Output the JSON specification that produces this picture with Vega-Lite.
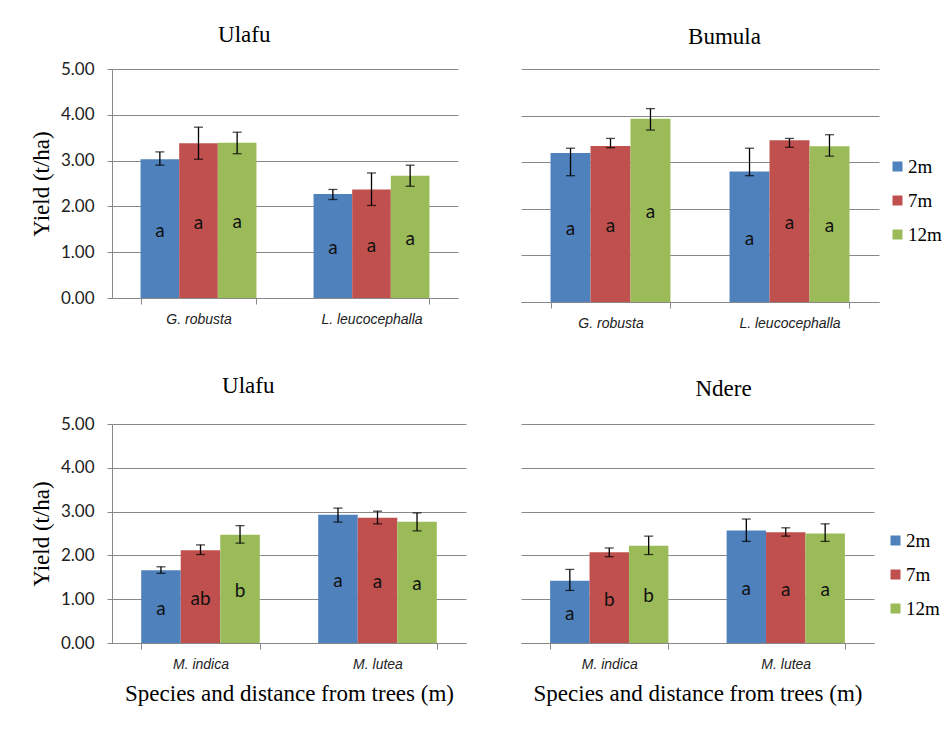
{
  "$schema": "https://vega.github.io/schema/vega-lite/v6.json",
  "padding": {"left": 30, "top": 24, "right": 5, "bottom": 5},
  "background": "white",
  "config": {"view": {"stroke": null}, "font": "Liberation Serif", "legend": {"labelFont": "Liberation Serif", "labelFontSize": 19, "labelColor": "#000"}},
  "data": {"values": [
    {"panel": "A", "species": "G. robusta", "dist": "2m", "yield": 3.03, "lo": 2.90, "hi": 3.19, "letter": "a"},
    {"panel": "A", "species": "G. robusta", "dist": "7m", "yield": 3.38, "lo": 3.03, "hi": 3.73, "letter": "a"},
    {"panel": "A", "species": "G. robusta", "dist": "12m", "yield": 3.39, "lo": 3.15, "hi": 3.62, "letter": "a"},
    {"panel": "A", "species": "L. leucocephalla", "dist": "2m", "yield": 2.27, "lo": 2.15, "hi": 2.37, "letter": "a"},
    {"panel": "A", "species": "L. leucocephalla", "dist": "7m", "yield": 2.37, "lo": 2.02, "hi": 2.73, "letter": "a"},
    {"panel": "A", "species": "L. leucocephalla", "dist": "12m", "yield": 2.67, "lo": 2.44, "hi": 2.90, "letter": "a"},
    {"panel": "B", "species": "G. robusta", "dist": "2m", "yield": 3.20, "lo": 2.71, "hi": 3.30, "letter": "a"},
    {"panel": "B", "species": "G. robusta", "dist": "7m", "yield": 3.35, "lo": 3.31, "hi": 3.51, "letter": "a"},
    {"panel": "B", "species": "G. robusta", "dist": "12m", "yield": 3.93, "lo": 3.69, "hi": 4.15, "letter": "a"},
    {"panel": "B", "species": "L. leucocephalla", "dist": "2m", "yield": 2.80, "lo": 2.71, "hi": 3.30, "letter": "a"},
    {"panel": "B", "species": "L. leucocephalla", "dist": "7m", "yield": 3.47, "lo": 3.32, "hi": 3.51, "letter": "a"},
    {"panel": "B", "species": "L. leucocephalla", "dist": "12m", "yield": 3.34, "lo": 3.13, "hi": 3.59, "letter": "a"},
    {"panel": "C", "species": "M. indica", "dist": "2m", "yield": 1.66, "lo": 1.59, "hi": 1.74, "letter": "a"},
    {"panel": "C", "species": "M. indica", "dist": "7m", "yield": 2.12, "lo": 2.02, "hi": 2.24, "letter": "ab"},
    {"panel": "C", "species": "M. indica", "dist": "12m", "yield": 2.47, "lo": 2.28, "hi": 2.68, "letter": "b"},
    {"panel": "C", "species": "M. lutea", "dist": "2m", "yield": 2.93, "lo": 2.76, "hi": 3.08, "letter": "a"},
    {"panel": "C", "species": "M. lutea", "dist": "7m", "yield": 2.86, "lo": 2.72, "hi": 3.01, "letter": "a"},
    {"panel": "C", "species": "M. lutea", "dist": "12m", "yield": 2.77, "lo": 2.56, "hi": 2.97, "letter": "a"},
    {"panel": "D", "species": "M. indica", "dist": "2m", "yield": 1.42, "lo": 1.20, "hi": 1.68, "letter": "a"},
    {"panel": "D", "species": "M. indica", "dist": "7m", "yield": 2.07, "lo": 1.97, "hi": 2.17, "letter": "b"},
    {"panel": "D", "species": "M. indica", "dist": "12m", "yield": 2.22, "lo": 2.02, "hi": 2.44, "letter": "b"},
    {"panel": "D", "species": "M. lutea", "dist": "2m", "yield": 2.57, "lo": 2.32, "hi": 2.83, "letter": "a"},
    {"panel": "D", "species": "M. lutea", "dist": "7m", "yield": 2.53, "lo": 2.44, "hi": 2.63, "letter": "a"},
    {"panel": "D", "species": "M. lutea", "dist": "12m", "yield": 2.50, "lo": 2.32, "hi": 2.72, "letter": "a"}
  ]},
  "columns": 2,
  "spacing": {"row": 122, "column": 55},
  "bounds": "flush",
  "align": "none",
  "resolve": {"scale": {"x": "independent", "y": "independent", "xOffset": "independent", "color": "independent"}, "legend": {"color": "independent"}},
  "concat": [
    {
      "width": 346, "height": 229,
      "title": {"text": "Ulafu", "font": "Liberation Serif", "fontSize": 23, "fontWeight": "normal", "color": "#000", "frame": "bounds", "anchor": "middle", "baseline": "alphabetic", "offset": -5},
      "transform": [{"filter": "datum.panel == 'A'"}, {"calculate": "datum.yield / 2", "as": "mid"}],
      "encoding": {
        "x": {"field": "species", "type": "nominal", "sort": null, "scale": {"paddingInner": 0.33, "paddingOuter": 0.165},
              "axis": {"title": null, "tickBand": "extent", "tickSize": 6, "tickColor": "#888", "domainColor": "#888", "labelFont": "Liberation Sans", "labelFontStyle": "italic", "labelFontSize": 14, "labelColor": "#222", "labelPadding": 8, "labelAngle": 0, "grid": false}},
        "xOffset": {"field": "dist", "type": "nominal", "sort": ["2m", "7m", "12m"], "scale": {"domain": ["2m", "7m", "12m"], "paddingInner": 0, "paddingOuter": 0}}
      },
      "layer": [
        {"mark": {"type": "bar"}, "encoding": {
          "y": {"field": "yield", "type": "quantitative", "scale": {"domain": [0, 5], "nice": false},
                "axis": {"title": "Yield (t/ha)", "titleFont": "Liberation Serif", "titleFontSize": 23, "titleFontWeight": "normal", "titleColor": "#000", "titlePadding": 7, "labelFont": "Lato", "labelFontSize": 17, "labelColor": "#222", "format": ".2f", "values": [0, 1, 2, 3, 4, 5], "tickSize": 5, "tickColor": "#888", "domainColor": "#888", "gridColor": "#888", "labelPadding": 13}},
          "color": {"field": "dist", "type": "nominal", "scale": {"domain": ["2m", "7m", "12m"], "range": ["#4F81BD", "#C0504D", "#9BBB59"]}, "legend": null}}},
        {"mark": {"type": "rule", "color": "#000", "strokeWidth": 1.3}, "encoding": {"y": {"field": "lo", "type": "quantitative"}, "y2": {"field": "hi"}}},
        {"mark": {"type": "tick", "color": "#000", "size": 9, "thickness": 1.3}, "encoding": {"y": {"field": "lo", "type": "quantitative"}}},
        {"mark": {"type": "tick", "color": "#000", "size": 9, "thickness": 1.3}, "encoding": {"y": {"field": "hi", "type": "quantitative"}}},
        {"mark": {"type": "text", "font": "Lato", "fontSize": 19, "color": "#111", "baseline": "middle", "dy": 2}, "encoding": {"y": {"field": "mid", "type": "quantitative"}, "text": {"field": "letter"}}}
      ]
    },
    {
      "width": 358, "height": 233,
      "title": {"text": "Bumula", "font": "Liberation Serif", "fontSize": 23, "fontWeight": "normal", "color": "#000", "frame": "bounds", "anchor": "middle", "baseline": "alphabetic", "offset": 2, "dx": -7},
      "transform": [{"filter": "datum.panel == 'B'"}, {"calculate": "datum.yield / 2", "as": "mid"}],
      "encoding": {
        "x": {"field": "species", "type": "nominal", "sort": null, "scale": {"paddingInner": 0.33, "paddingOuter": 0.165},
              "axis": {"title": null, "tickBand": "extent", "tickSize": 6, "tickColor": "#888", "domainColor": "#888", "labelFont": "Liberation Sans", "labelFontStyle": "italic", "labelFontSize": 14, "labelColor": "#222", "labelPadding": 8, "labelAngle": 0, "grid": false}},
        "xOffset": {"field": "dist", "type": "nominal", "sort": ["2m", "7m", "12m"], "scale": {"domain": ["2m", "7m", "12m"], "paddingInner": 0, "paddingOuter": 0}}
      },
      "layer": [
        {"mark": {"type": "bar"}, "encoding": {
          "y": {"field": "yield", "type": "quantitative", "scale": {"domain": [0, 5], "nice": false},
                "axis": {"title": null, "labels": false, "ticks": false, "domain": false, "values": [0, 1, 2, 3, 4, 5], "gridColor": "#888"}},
          "color": {"field": "dist", "type": "nominal", "scale": {"domain": ["2m", "7m", "12m"], "range": ["#4F81BD", "#C0504D", "#9BBB59"]},
                    "legend": {"orient": "none", "legendX": 367, "legendY": 88, "title": null, "symbolType": "square", "symbolSize": 100, "symbolStrokeWidth": 0, "labelFont": "Liberation Serif", "labelFontSize": 19, "labelColor": "#000", "rowPadding": 14, "labelOffset": 1, "padding": 0}}}},
        {"mark": {"type": "rule", "color": "#000", "strokeWidth": 1.3}, "encoding": {"y": {"field": "lo", "type": "quantitative"}, "y2": {"field": "hi"}}},
        {"mark": {"type": "tick", "color": "#000", "size": 9, "thickness": 1.3}, "encoding": {"y": {"field": "lo", "type": "quantitative"}}},
        {"mark": {"type": "tick", "color": "#000", "size": 9, "thickness": 1.3}, "encoding": {"y": {"field": "hi", "type": "quantitative"}}},
        {"mark": {"type": "text", "font": "Lato", "fontSize": 19, "color": "#111", "baseline": "middle", "dy": 2}, "encoding": {"y": {"field": "mid", "type": "quantitative"}, "text": {"field": "letter"}}}
      ]
    },
    {
      "width": 354, "height": 219,
      "title": {"text": "Ulafu", "font": "Liberation Serif", "fontSize": 23, "fontWeight": "normal", "color": "#000", "frame": "bounds", "anchor": "middle", "baseline": "alphabetic", "offset": -1},
      "transform": [{"filter": "datum.panel == 'C'"}, {"calculate": "datum.yield / 2", "as": "mid"}],
      "encoding": {
        "x": {"field": "species", "type": "nominal", "sort": null, "scale": {"paddingInner": 0.33, "paddingOuter": 0.165},
              "axis": {"title": "Species and distance from trees (m)", "titleFont": "Liberation Serif", "titleFontSize": 23, "titleFontWeight": "normal", "titleColor": "#000", "titlePadding": 11, "tickBand": "extent", "tickSize": 6, "tickColor": "#888", "domainColor": "#888", "labelFont": "Liberation Sans", "labelFontStyle": "italic", "labelFontSize": 14, "labelColor": "#222", "labelPadding": 8, "labelAngle": 0, "grid": false}},
        "xOffset": {"field": "dist", "type": "nominal", "sort": ["2m", "7m", "12m"], "scale": {"domain": ["2m", "7m", "12m"], "paddingInner": 0, "paddingOuter": 0}}
      },
      "layer": [
        {"mark": {"type": "bar"}, "encoding": {
          "y": {"field": "yield", "type": "quantitative", "scale": {"domain": [0, 5], "nice": false},
                "axis": {"title": "Yield (t/ha)", "titleFont": "Liberation Serif", "titleFontSize": 23, "titleFontWeight": "normal", "titleColor": "#000", "titlePadding": 7, "labelFont": "Lato", "labelFontSize": 17, "labelColor": "#222", "format": ".2f", "values": [0, 1, 2, 3, 4, 5], "tickSize": 5, "tickColor": "#888", "domainColor": "#888", "gridColor": "#888", "labelPadding": 13}},
          "color": {"field": "dist", "type": "nominal", "scale": {"domain": ["2m", "7m", "12m"], "range": ["#4F81BD", "#C0504D", "#9BBB59"]}, "legend": null}}},
        {"mark": {"type": "rule", "color": "#000", "strokeWidth": 1.3}, "encoding": {"y": {"field": "lo", "type": "quantitative"}, "y2": {"field": "hi"}}},
        {"mark": {"type": "tick", "color": "#000", "size": 9, "thickness": 1.3}, "encoding": {"y": {"field": "lo", "type": "quantitative"}}},
        {"mark": {"type": "tick", "color": "#000", "size": 9, "thickness": 1.3}, "encoding": {"y": {"field": "hi", "type": "quantitative"}}},
        {"mark": {"type": "text", "font": "Lato", "fontSize": 19, "color": "#111", "baseline": "middle", "dy": 2}, "encoding": {"y": {"field": "mid", "type": "quantitative"}, "text": {"field": "letter"}}}
      ]
    },
    {
      "width": 353, "height": 219,
      "title": {"text": "Ndere", "font": "Liberation Serif", "fontSize": 23, "fontWeight": "normal", "color": "#000", "frame": "bounds", "anchor": "middle", "baseline": "alphabetic", "offset": 5, "dx": -7},
      "transform": [{"filter": "datum.panel == 'D'"}, {"calculate": "datum.yield / 2", "as": "mid"}],
      "encoding": {
        "x": {"field": "species", "type": "nominal", "sort": null, "scale": {"paddingInner": 0.33, "paddingOuter": 0.165},
              "axis": {"title": "Species and distance from trees (m)", "titleFont": "Liberation Serif", "titleFontSize": 23, "titleFontWeight": "normal", "titleColor": "#000", "titlePadding": 11, "tickBand": "extent", "tickSize": 6, "tickColor": "#888", "domainColor": "#888", "labelFont": "Liberation Sans", "labelFontStyle": "italic", "labelFontSize": 14, "labelColor": "#222", "labelPadding": 8, "labelAngle": 0, "grid": false}},
        "xOffset": {"field": "dist", "type": "nominal", "sort": ["2m", "7m", "12m"], "scale": {"domain": ["2m", "7m", "12m"], "paddingInner": 0, "paddingOuter": 0}}
      },
      "layer": [
        {"mark": {"type": "bar"}, "encoding": {
          "y": {"field": "yield", "type": "quantitative", "scale": {"domain": [0, 5], "nice": false},
                "axis": {"title": null, "labels": false, "ticks": false, "domain": false, "values": [0, 1, 2, 3, 4, 5], "gridColor": "#888"}},
          "color": {"field": "dist", "type": "nominal", "scale": {"domain": ["2m", "7m", "12m"], "range": ["#4F81BD", "#C0504D", "#9BBB59"]},
                    "legend": {"orient": "none", "legendX": 365, "legendY": 107, "title": null, "symbolType": "square", "symbolSize": 100, "symbolStrokeWidth": 0, "labelFont": "Liberation Serif", "labelFontSize": 19, "labelColor": "#000", "rowPadding": 14, "labelOffset": 1, "padding": 0}}}},
        {"mark": {"type": "rule", "color": "#000", "strokeWidth": 1.3}, "encoding": {"y": {"field": "lo", "type": "quantitative"}, "y2": {"field": "hi"}}},
        {"mark": {"type": "tick", "color": "#000", "size": 9, "thickness": 1.3}, "encoding": {"y": {"field": "lo", "type": "quantitative"}}},
        {"mark": {"type": "tick", "color": "#000", "size": 9, "thickness": 1.3}, "encoding": {"y": {"field": "hi", "type": "quantitative"}}},
        {"mark": {"type": "text", "font": "Lato", "fontSize": 19, "color": "#111", "baseline": "middle", "dy": 2}, "encoding": {"y": {"field": "mid", "type": "quantitative"}, "text": {"field": "letter"}}}
      ]
    }
  ]
}
